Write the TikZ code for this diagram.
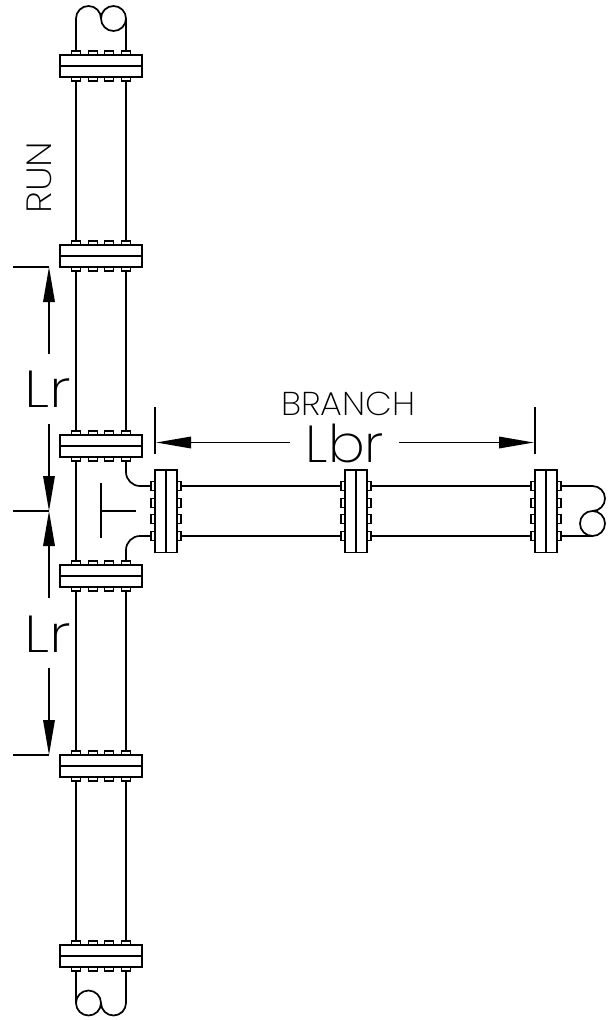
\documentclass[tikz,border=0pt]{standalone}
\usepackage{fontspec}
\setmainfont{Poppins}[UprightFont=* Light]
\newfontfamily\smallcad{Poppins}[UprightFont=* ExtraLight,FakeStretch=1.05]
\newfontfamily\runcad{Poppins}[UprightFont=* ExtraLight,FakeStretch=1.1]
\newfontfamily\lbrcad{Poppins}[UprightFont=* ExtraLight,FakeStretch=1.05]
\newfontfamily\lrcad{Poppins}[UprightFont=* ExtraLight,FakeStretch=1.18]
\usetikzlibrary{arrows.meta}
\tikzset{
  x=1pt,y=-1pt,
  pipe/.style={line width=1.7pt,line join=round},
  flangeV/.style={draw,line width=1.7pt,fill=white,minimum width=82pt,minimum height=22pt,inner sep=0pt,outer sep=0pt},
  flangeH/.style={draw,line width=1.7pt,fill=white,minimum width=22.6pt,minimum height=82.6pt,inner sep=0pt,outer sep=0pt},
  bolt/.style={draw,line width=1.2pt,fill=white,inner sep=0pt,outer sep=0pt},
  dimline/.style={line width=1.7pt},
  dimarrow/.style={line width=1.7pt,-{Triangle[length=35pt,width=11.5pt,inset=0pt,sep=0pt]},shorten >=0pt},
  lab/.style={inner sep=0pt,outer sep=0pt,text=black},
}
\begin{document}
\begin{tikzpicture}
\useasboundingbox (0,0) rectangle (615,1020);
% vertical run flanges
\foreach \n/\cy in {1/66,2/256,3/446,4/576,5/766,6/956}{
  \foreach \bx/\m in {76/a,92.7/b,109.3/c,126/d}{
    \node[bolt,minimum width=9pt,minimum height=4pt] at (\bx,\cy-13) {};
    \node[bolt,minimum width=9pt,minimum height=4pt] at (\bx,\cy+13) {};
  }
  \node[flangeV] (v\n) at (101,\cy) {};
  \draw[pipe] (v\n.west) -- (v\n.east);
  \coordinate (v\n tl) at (76,\cy-15);
  \coordinate (v\n tr) at (126,\cy-15);
  \coordinate (v\n bl) at (76,\cy+15);
  \coordinate (v\n br) at (126,\cy+15);
}
% horizontal branch flanges
\foreach \n/\cx in {1/166,2/356,3/546}{
  \foreach \by in {486,502.7,519.3,536}{
    \node[bolt,minimum width=4pt,minimum height=9pt] at (\cx-13,\by) {};
    \node[bolt,minimum width=4pt,minimum height=9pt] at (\cx+13,\by) {};
  }
  \node[flangeH] (h\n) at (\cx,511.3) {};
  \draw[pipe] (h\n.north) -- (h\n.south);
  \coordinate (h\n lt) at (\cx-15,486);
  \coordinate (h\n lb) at (\cx-15,536);
  \coordinate (h\n rt) at (\cx+15,486);
  \coordinate (h\n rb) at (\cx+15,536);
}
% run pipes
\foreach \a/\b in {1/2,2/3,4/5,5/6}{
  \draw[pipe] (v\a bl) -- (v\b tl);
  \draw[pipe] (v\a br) -- (v\b tr);
}
\draw[pipe] (v3bl) -- (v4tl);
% branch pipes
\foreach \a/\b in {1/2,2/3}{
  \draw[pipe] (h\a rt) -- (h\b lt);
  \draw[pipe] (h\a rb) -- (h\b lb);
}
% tee elbows
\draw[pipe] (v3br) -- (126,472) arc[start angle=180,end angle=90,radius=14] -- (h1lt);
\draw[pipe] (v4tr) -- (126,550) arc[start angle=180,end angle=270,radius=14] -- (h1lb);
% top return
\draw[pipe] (v1tl) -- (76,18.5) arc[start angle=180,end angle=0,x radius=12.5,y radius=-12.5]
  arc[start angle=180,end angle=-180,x radius=12.5,y radius=-12.5];
\draw[pipe] (v1tr) -- (126,18.5);
% bottom return
\draw[pipe] (v6bl) -- (76,1003) arc[start angle=180,end angle=-180,x radius=12.5,y radius=12.5]
  (101,1003) arc[start angle=180,end angle=360,x radius=12.5,y radius=-12.5];
\draw[pipe] (v6br) -- (126,1003);
% right return
\draw[pipe] (h3rt) -- (592.5,486) arc[start angle=90,end angle=-90,x radius=12.5,y radius=-12.5]
  arc[start angle=90,end angle=-270,x radius=12.5,y radius=-12.5];
\draw[pipe] (h3rb) -- (592.5,536);
% centre mark
\coordinate (tA) at (101,483); \coordinate (tB) at (101,538);
\coordinate (tC) at (101,511); \coordinate (tD) at (136,511);
\draw[dimline] (tA) -- (tB);
\draw[dimline] (tC) -- (tD);
% left dimension
\coordinate (d1) at (49,267); \coordinate (d2) at (49,511); \coordinate (d3) at (49,755);
\coordinate (e1) at (12.5,267); \coordinate (e2) at (12.5,511); \coordinate (e3) at (12.5,755);
\draw[dimline] (e1) -- (d1);
\draw[dimline] (e2) -- (d2);
\draw[dimline] (e3) -- (d3);
\coordinate (g1) at (49,354); \coordinate (g2) at (49,424);
\coordinate (g3) at (49,598); \coordinate (g4) at (49,668);
\draw[dimarrow] (g1) -- (d1);
\draw[dimarrow] (g2) -- (d2);
\draw[dimarrow] (g3) -- (d2);
\draw[dimarrow] (g4) -- (d3);
% horizontal dimension
\coordinate (k1) at (156,442.5); \coordinate (k2) at (534,442.5);
\coordinate (x1t) at (155,407); \coordinate (x1b) at (155,454);
\coordinate (x2t) at (535,407); \coordinate (x2b) at (535,454);
\draw[dimline] (x1t) -- (x1b);
\draw[dimline] (x2t) -- (x2b);
\coordinate (m1) at (290,442.5); \coordinate (m2) at (399,442.5);
\draw[dimarrow] (m1) -- (k1);
\draw[dimarrow] (m2) -- (k2);
% labels
\node[lab,rotate=90,font=\runcad\fontsize{35}{35}\selectfont] (run) at (39,177.5) {RUN};
\node[lab,font=\smallcad\fontsize{33}{33}\selectfont] (branch) at (348.5,404) {BRANCH};
\node[lab,anchor=base,font=\lbrcad\fontsize{52}{52}\selectfont] (lbr) at (345,462) {Lbr};
\node[lab,anchor=base,font=\lrcad\fontsize{52}{52}\selectfont] (lr1) at (48,407) {Lr};
\node[lab,anchor=base,font=\lrcad\fontsize{52}{52}\selectfont] (lr2) at (48,652) {Lr};
\end{tikzpicture}
\end{document}
